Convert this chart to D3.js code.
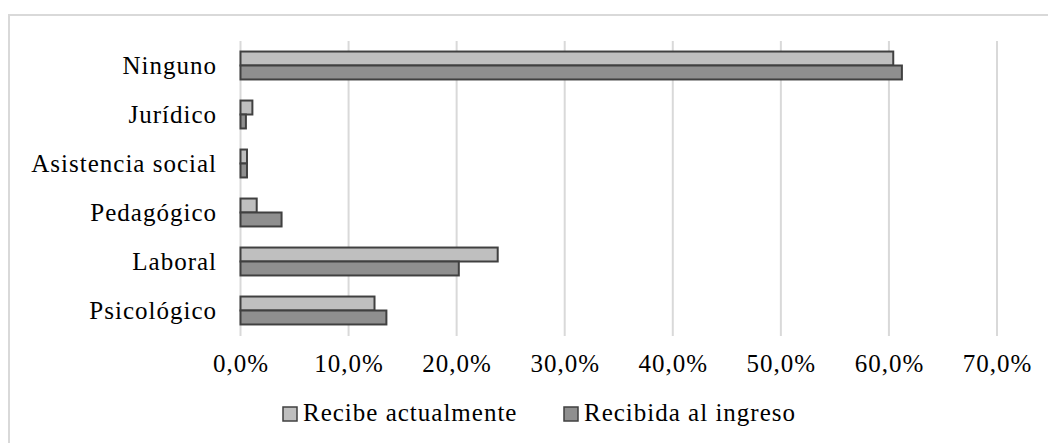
<!DOCTYPE html>
<html>
<head>
<meta charset="utf-8">
<script src="https://cdn.jsdelivr.net/npm/d3@7"></script>
<style>
  body { margin: 0; background: #fff; }
</style>
</head>
<body>
<div id="chart"></div>
<script>
const categories = ["Ninguno", "Jurídico", "Asistencia social", "Pedagógico", "Laboral", "Psicológico"];
const seriesNames = ["Recibe actualmente", "Recibida al ingreso"];
const recibeActualmente = [0.604, 0.011, 0.006, 0.015, 0.238, 0.124];
const recibidaIngreso = [0.612, 0.005, 0.006, 0.038, 0.202, 0.135];
const xTicks = [0, 0.1, 0.2, 0.3, 0.4, 0.5, 0.6, 0.7];

const chart = {
    width: 1048,
    height: 443,
    colors: ["#bfbfbf", "#8f8f8f"],
    strokeColor: "#404040",
    gridColor: "#d9d9d9",
    fontSize: 25,
    font: "'Liberation Serif', 'Times New Roman', serif",
    styleText: function(sel) {
        return sel.attr("font-family", chart.font)
            .attr("font-size", chart.fontSize)
            .attr("letter-spacing", 1)
            .attr("fill", "#000");
    },
    plot: function() {
        const _self = chart;

        const svg = d3.select("#chart")
            .append("svg")
            .attr("width", _self.width)
            .attr("height", _self.height);

        // Chart border (only top/left visible in the frame)
        svg.append("rect")
            .attr("x", 9)
            .attr("y", 15)
            .attr("width", 1100)
            .attr("height", 500)
            .attr("fill", "none")
            .attr("stroke", _self.gridColor)
            .attr("stroke-width", 2);

        const x = d3.scaleLinear()
            .domain([0, 0.7])
            .range([240.5, 997]);

        const y = d3.scaleBand()
            .domain(categories)
            .range([41, 335])
            .paddingInner(0.43)
            .paddingOuter(0.215);

        const ySub = d3.scaleBand()
            .domain(seriesNames)
            .range([0, y.bandwidth()]);

        // Gridlines
        svg.append("g")
            .selectAll("line")
            .data(xTicks)
            .enter()
            .append("line")
            .attr("x1", d => x(d))
            .attr("x2", d => x(d))
            .attr("y1", 41)
            .attr("y2", 336)
            .attr("stroke", _self.gridColor)
            .attr("stroke-width", 2);

        // Tick labels
        const fmt = d3.format(".1f");
        svg.append("g")
            .selectAll("text")
            .data(xTicks)
            .enter()
            .append("text")
            .attr("x", d => x(d) + 0.5)
            .attr("y", 372)
            .attr("text-anchor", "middle")
            .call(_self.styleText)
            .text(d => fmt(d * 100).replace(".", ",") + "%");

        // Category labels
        svg.append("g")
            .selectAll("text")
            .data(categories)
            .enter()
            .append("text")
            .attr("x", 217)
            .attr("y", d => y(d) + y.bandwidth() / 2 + 8)
            .attr("text-anchor", "end")
            .call(_self.styleText)
            .text(d => d);

        // Bars
        const rows = categories.map((c, i) => ({
            cat: c,
            values: [recibeActualmente[i], recibidaIngreso[i]]
        }));

        const groups = svg.append("g")
            .selectAll("g")
            .data(rows)
            .enter()
            .append("g")
            .attr("transform", d => `translate(0,${y(d.cat)})`);

        groups.selectAll("rect")
            .data(d => d.values.map((v, j) => ({ name: seriesNames[j], v: v, j: j })))
            .enter()
            .append("rect")
            .attr("x", x(0))
            .attr("y", d => ySub(d.name))
            .attr("width", d => x(d.v) - x(0))
            .attr("height", ySub.bandwidth())
            .attr("fill", d => _self.colors[d.j])
            .attr("stroke", _self.strokeColor)
            .attr("stroke-width", 2);

        // Legend
        const legendX = [283, 564];
        const legend = svg.append("g")
            .selectAll("g")
            .data(seriesNames)
            .enter()
            .append("g")
            .attr("transform", (d, i) => `translate(${legendX[i]},407)`);

        legend.append("rect")
            .attr("width", 14)
            .attr("height", 14)
            .attr("fill", (d, i) => _self.colors[i])
            .attr("stroke", _self.strokeColor)
            .attr("stroke-width", 1.5);

        legend.append("text")
            .attr("x", 20)
            .attr("y", 14)
            .call(_self.styleText)
            .text(d => d);
    }
};

chart.plot();
</script>
</body>
</html>
